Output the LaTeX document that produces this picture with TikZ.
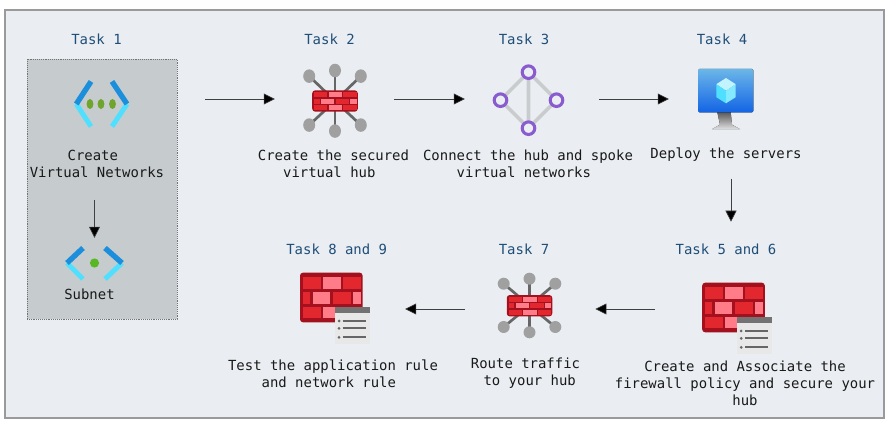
\documentclass[tikz,border=0pt]{standalone}
\usepackage{fontspec}
\setmonofont{DejaVu Sans Mono}
\usepackage{xcolor}
\usetikzlibrary{arrows.meta}
\definecolor{framebg}{HTML}{EAEEF2}
\definecolor{framegray}{HTML}{9A9A9A}
\definecolor{boxgray}{HTML}{C6CBCE}
\definecolor{navy}{HTML}{1F4E79}
\definecolor{chevdark}{HTML}{1B8FDB}
\definecolor{chevlight}{HTML}{50E0FF}
\definecolor{dotgreen}{HTML}{6FA52C}
\definecolor{wallred}{HTML}{A4111E}
\definecolor{brickred}{HTML}{E2272E}
\definecolor{brickpink}{HTML}{FF7C88}
\definecolor{spokegray}{HTML}{666666}
\definecolor{balloon}{HTML}{A0A0A0}
\definecolor{meshline}{HTML}{C8CCCC}
\definecolor{meshring}{HTML}{8A5ACF}
\newcommand{\testo}{\ttfamily\fontsize{11.9}{14.5}\selectfont}
\newcommand{\pad}{\phantom{x}}
\tikzset{
  tasklabel/.style={inner sep=0pt,text=navy,font=\testo},
  tasktext/.style={inner sep=0pt,align=center,text=black!90,font=\testo},
  iconspot/.style={inner sep=0pt,minimum width=1.8cm,minimum height=1.5cm},
  flow/.style={draw=black!75,line width=0.5pt,-{Triangle[length=0.33cm,width=0.33cm,fill=black]}},
  bricks/.pic={
    \fill[wallred,rounded corners=2.5pt] (-31.3,-24.8) rectangle (31.3,24.8);
    \foreach \xa/\xb/\col in {-28.7/-10.7/brickred,-8.7/9.7/brickpink,11.3/29.7/brickred} {
      \fill[\col] (\xa,-20.2) rectangle (\xb,-8.5);
      \fill[\col] (\xa,9.2) rectangle (\xb,20.8);
    }
    \foreach \xa/\xb/\col in {-28.7/-21.3/brickred,-18.7/-1.3/brickpink,1.3/19.3/brickred,21.3/29.7/brickpink}
      \fill[\col] (\xa,-5.2) rectangle (\xb,6.5);
  },
  policywall/.pic={
    \pic {bricks};
    \fill[black!9] (3.7,9.2) rectangle (38.7,46.8);
    \fill[black!55] (3.7,9.2) rectangle (38.7,15.8);
    \foreach \y in {23.5,30.8,39.8} {
      \fill[black!60] (7.7,\y) circle[radius=1.5];
      \draw[black!60,line width=1.8pt] (11.4,\y) -- (34.7,\y);
    }
  },
  hubwall/.pic={
    \foreach \ex/\ey in {0/-27,-25.8/-22,25.8/-22,-25.8/21.3,25.8/21.3,0/26.6} {
      \draw[spokegray,line width=2.3pt] (0,0) -- (\ex,\ey);
      \fill[balloon] (\ex,\ey) circle[radius=6];
    }
    \pic[xscale=0.727,yscale=0.43] {bricks};
  },
  vnetchev/.pic={
    \draw[chevlight,line width=4.2pt] (-24.7,0) -- (-10,22.5);
    \draw[chevdark,line width=4.6pt] (-10,-22.5) -- (-24.7,0);
    \draw[chevlight,line width=4.2pt] (26,0) -- (11,22.5);
    \draw[chevdark,line width=4.6pt] (11,-22.5) -- (26,0);
  },
  subnetchev/.pic={
    \draw[chevlight,line width=4.2pt] (-27.5,0) -- (-11.5,16);
    \draw[chevdark,line width=4.6pt] (-11.5,-15) -- (-27.5,0);
    \draw[chevlight,line width=4.2pt] (27.5,0) -- (10.5,16);
    \draw[chevdark,line width=4.6pt] (10.5,-15) -- (27.5,0);
  },
  meshicon/.pic={
    \draw[meshline,line width=3pt] (0,-28) -- (-28,0) -- (0,28) -- (28,0) -- cycle (0,-28) -- (0,28);
    \foreach \x/\y in {0/-28,-28/0,28/0,0/28}
      \draw[meshring,line width=2.6pt,fill=framebg] (\x,\y) circle[radius=6.3];
  },
  servericon/.pic={
    \fill[top color=black!65,bottom color=black!12] (-8.7,21.5) -- (4.7,21.5) -- (6,34) -- (14,38.5) -- (-14,38.5) -- (-6,34) -- cycle;
    \fill[rounded corners=1pt,top color=chevdark!65!white,bottom color=chevdark!70!blue] (-27.7,-21.7) rectangle (27.3,21.6);
    \fill[chevlight!35!white] (0,-12.7) -- (9.7,-6.5) -- (0,0) -- (-9.7,-6.5) -- cycle;
    \fill[chevlight] (-9.7,-6.5) -- (0,0) -- (0,12.6) -- (-9.7,6.5) -- cycle;
    \fill[chevlight!70!white] (9.7,-6.5) -- (0,0) -- (0,12.6) -- (9.7,6.5) -- cycle;
  }
}

\begin{document}
\begin{tikzpicture}[x=0.03cm,y=-0.03cm]
  \useasboundingbox[fill=white] (0,0) rectangle (895,430);
  \draw[fill=framebg,draw=framegray,line width=1.1pt] (5,10) rectangle (884,418);
  \node[draw=black!55,densely dotted,fill=boxgray,line width=0.6pt,inner sep=0pt,minimum width=4.5cm,minimum height=7.8cm] (vnetbox) at (102,189) {};

  \node[iconspot] (vnet) at (101,104) {};
  \node[iconspot] (subnet) at (94.5,263) {};
  \node[iconspot] (hub) at (335,99) {};
  \node[iconspot] (mesh) at (529,99) {};
  \node[iconspot] (server) at (726,99) {};
  \node[iconspot] (firewall) at (733.5,309) {};
  \node[iconspot] (route) at (529.5,309) {};
  \node[iconspot] (rules) at (331.3,309) {};

  \pic at (vnet) {vnetchev};
  \foreach \x in {-11,0,11.5} \fill[dotgreen] (101+\x,104) ellipse (3.4 and 5);
  \pic at (subnet) {subnetchev};
  \fill[dotgreen!80!green] (subnet) circle[radius=4.6];
  \pic[yscale=1.13] at (335,101) {hubwall};
  \pic at (528.5,100.2) {meshicon};
  \pic at (726,90.7) {servericon};
  \pic at (733.5,307.5) {policywall};
  \pic at (529.5,305.7) {hubwall};
  \pic at (331.3,297.5) {policywall};

  \node[tasklabel] (t1) at (96.5,39) {Task 1};
  \node[tasklabel] (t2) at (329.5,39) {Task 2};
  \node[tasklabel] (t3) at (524,39) {Task 3};
  \node[tasklabel] (t4) at (722,39) {Task 4};
  \node[tasklabel] (t56) at (726,249) {Task 5 and 6};
  \node[tasklabel] (t7) at (524,249) {Task 7};
  \node[tasklabel] (t89) at (336.7,249) {Task 8 and 9};

  \node[tasktext] (vnettext) at (97,163.5) {Create\pad\\Virtual Networks};
  \node[tasktext] (subnettext) at (89.5,294) {Subnet};
  \node[tasktext] (hubtext) at (333.5,163.5) {Create the secured\\virtual hub\pad};
  \node[tasktext] (meshtext) at (528,163.5) {Connect the hub and spoke\\virtual networks\pad};
  \node[tasktext] (servertext) at (726,155) {Deploy the servers};
  \node[tasktext] (firewalltext) at (745,383.5) {Create and Associate the\\firewall policy and secure your\\hub};
  \node[tasktext] (routetext) at (525.5,373.5) {Route traffic\\\pad to your hub};
  \node[tasktext] (rulestext) at (333,373.5) {Test the application rule\\and network rule\pad};

  \draw[flow,shorten <=0.67cm] (vnettext.south -| subnet) -- (subnet.north);
  \draw[flow,shorten <=0.84cm,shorten >=0.9cm] (vnetbox.east |- hub) -- (hub);
  \draw[flow,shorten <=0.87cm,shorten >=1.02cm] (hub) -- (mesh);
  \draw[flow,shorten <=1.2cm,shorten >=0.81cm] (mesh) -- (server);
  \draw[flow,shorten <=0.5cm,shorten >=0.65cm] ([xshift=0.15cm]servertext.south) -- ([xshift=0.15cm]t56.north);
  \draw[flow,shorten <=1.45cm,shorten >=1.07cm] (firewall) -- (route);
  \draw[flow,shorten <=1.035cm,shorten >=1.31cm] (route) -- (rules);
\end{tikzpicture}
\end{document}
